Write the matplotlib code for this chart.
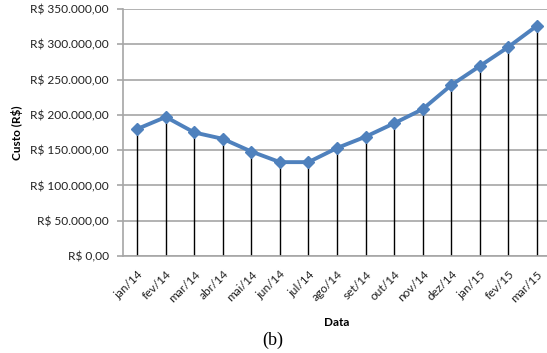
import matplotlib
matplotlib.use("Agg")
import matplotlib.pyplot as plt
from matplotlib.ticker import FuncFormatter

# Monthly cost series
months = ["jan/14", "fev/14", "mar/14", "abr/14", "mai/14", "jun/14", "jul/14",
          "ago/14", "set/14", "out/14", "nov/14", "dez/14", "jan/15", "fev/15", "mar/15"]
costs = [180000, 197000, 175000, 166000, 148000, 133000, 133000,
         153000, 169000, 188000, 208000, 242000, 269000, 296000, 326000]
y_ticks = [0, 50000, 100000, 150000, 200000, 250000, 300000, 350000]

W, H = 547, 353
fig = plt.figure(figsize=(W / 100, H / 100), dpi=100)
fig.patch.set_facecolor("white")

left, right, top, bottom = 123, 551, 9, 256
ax = fig.add_axes([left / W, (H - bottom) / H, (right - left) / W, (bottom - top) / H])

x = list(range(len(months)))
ax.set_xlim(-0.5, len(months) - 0.5)
ax.set_ylim(0, 350000)

# gridlines
ax.set_yticks(y_ticks)
ax.yaxis.grid(True, color="#a6a6a6", linewidth=1.2, zorder=0)
ax.set_axisbelow(True)

# drop lines from each point to the axis
ax.vlines(x, 0, costs, colors="black", linewidth=1.0, zorder=2)

# cost line
ax.plot(x, costs, color="#4f81bd", linewidth=2.8, marker="D", markersize=6,
        markerfacecolor="#4f81bd", markeredgecolor="#4f81bd", zorder=3,
        solid_capstyle="round", solid_joinstyle="round")

def brl(v, pos):
    s = f"{v:,.2f}"
    s = s.replace(",", "X").replace(".", ",").replace("X", ".")
    return "R$ " + s

ax.yaxis.set_major_formatter(FuncFormatter(brl))

for side in ("top", "right"):
    ax.spines[side].set_visible(False)
for side in ("left", "bottom"):
    ax.spines[side].set_color("#a6a6a6")
    ax.spines[side].set_linewidth(1.2)

ax.tick_params(axis="y", length=4, width=1.2, color="#a6a6a6", pad=6,
               labelsize=8.6, labelcolor="#222222")
ax.set_xticks(x)
ax.set_xticklabels(months, rotation=45, ha="right", rotation_mode="anchor",
                   fontsize=8.6, color="#222222")
ax.tick_params(axis="x", length=0, pad=9)

for lbl in ax.get_yticklabels() + ax.get_xticklabels():
    lbl.set_family("Lato")

ax.set_ylabel("Custo (R$)", fontsize=8.5, fontweight="bold", family="Lato", labelpad=5)
fig.text(337 / W, 1 - 322 / H, "Data", ha="center", va="center",
         fontsize=8.5, fontweight="bold", family="Lato")
fig.text(273 / W, 1 - 340 / H, "(b)", ha="center", va="center",
         fontsize=13, family="Liberation Serif")

fig.savefig("out.png", dpi=100)
